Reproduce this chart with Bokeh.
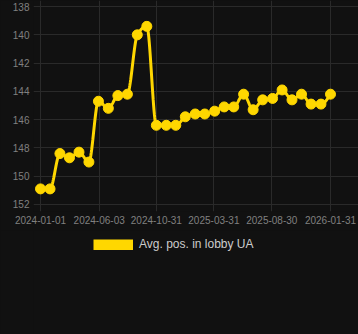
import numpy as np
import pandas as pd
from bokeh.plotting import figure
from bokeh.layouts import column
from bokeh.models import Range1d, FixedTicker, DatetimeTickFormatter, Legend, LegendItem
from bokeh.embed import file_html
from bokeh.resources import INLINE

# ---- data ----
dates = ["2024-01-01", "2024-01-26", "2024-02-21", "2024-03-17", "2024-04-11", "2024-05-07",
         "2024-06-01", "2024-06-27", "2024-07-22", "2024-08-16", "2024-09-11", "2024-10-06",
         "2024-10-31", "2024-11-26", "2024-12-21", "2025-01-15", "2025-02-10", "2025-03-07",
         "2025-04-02", "2025-04-27", "2025-05-22", "2025-06-17", "2025-07-12", "2025-08-06",
         "2025-09-01", "2025-09-26", "2025-10-22", "2025-11-16", "2025-12-11", "2026-01-06",
         "2026-01-31"]
avg_pos = [150.9, 150.9, 148.4, 148.7, 148.3, 149.0, 144.7, 145.2, 144.3, 144.2, 140.0,
           139.4, 146.4, 146.4, 146.4, 145.8, 145.6, 145.6, 145.4, 145.1, 145.1, 144.2,
           145.3, 144.6, 144.5, 143.9, 144.6, 144.2, 144.9, 144.9, 144.2]
x_tick_labels = ["2024-01-01", "2024-06-03", "2024-10-31", "2025-03-31", "2025-08-30", "2026-01-31"]
y_ticks = [138, 140, 142, 144, 146, 148, 150, 152]
series_name = "Avg. pos. in lobby UA"

GOLD = "#FFD700"
BG = "#111111"
GRID = "#2a2a2a"
TXT = "#808080"

EPOCH = pd.Timestamp("1970-01-01")
xs = np.array([(pd.Timestamp(d) - EPOCH).total_seconds() * 1000.0 for d in dates])
ys = np.array(avg_pos, dtype=float)

# monotone cubic (d3 monotoneX style) for a smooth line through the points
def monotone(x, y, n=24):
    m = len(x)
    h = np.diff(x)
    s = np.diff(y) / h
    tan = np.zeros(m)
    for i in range(1, m - 1):
        pp = (s[i - 1] * h[i] + s[i] * h[i - 1]) / (h[i - 1] + h[i])
        tan[i] = (np.sign(s[i - 1]) + np.sign(s[i])) * min(abs(s[i - 1]), abs(s[i]), 0.5 * abs(pp))
    tan[0] = (3 * s[0] - tan[1]) / 2
    tan[-1] = (3 * s[-1] - tan[-2]) / 2
    ox, oy = [], []
    for i in range(m - 1):
        u = np.linspace(0, 1, n, endpoint=(i == m - 2))
        h00 = 2 * u**3 - 3 * u**2 + 1
        h10 = u**3 - 2 * u**2 + u
        h01 = -2 * u**3 + 3 * u**2
        h11 = u**3 - u**2
        ox.extend(x[i] + u * h[i])
        oy.extend(h00 * y[i] + h10 * h[i] * tan[i] + h01 * y[i + 1] + h11 * h[i] * tan[i + 1])
    return np.array(ox), np.array(oy)

cx, cy = monotone(xs, ys)

day = 86400000.0
x0 = xs[0]
p = figure(width=358, height=230, output_backend="svg", toolbar_location=None,
           x_axis_type="datetime",
           x_range=Range1d(x0 - 18.4 * day, x0 + 834.5 * day),
           y_range=Range1d(152.5, 137.57),
           min_border_left=33, min_border_right=0, min_border_top=0, min_border_bottom=19)
p.background_fill_color = BG
p.border_fill_color = BG
p.outline_line_color = None

p.xgrid.grid_line_color = GRID
p.ygrid.grid_line_color = GRID

tick_ms = [(pd.Timestamp(s) - EPOCH).total_seconds() * 1000.0 for s in x_tick_labels]
p.xaxis.ticker = FixedTicker(ticks=tick_ms)
fmt = "%Y-%m-%d"
p.xaxis.formatter = DatetimeTickFormatter(milliseconds=fmt, seconds=fmt, minsec=fmt, minutes=fmt,
                                          hourmin=fmt, hours=fmt, days=fmt, months=fmt, years=fmt)
p.yaxis.ticker = FixedTicker(ticks=y_ticks)

for ax in (p.xaxis, p.yaxis):
    ax.axis_line_color = None
    ax.major_tick_line_color = None
    ax.minor_tick_line_color = None
    ax.major_tick_out = 0
    ax.major_tick_in = 0
    ax.major_label_text_color = TXT
    ax.major_label_text_font = "Liberation Sans"
    ax.major_label_text_font_size = "10px"
p.xaxis.major_label_standoff = 4
p.yaxis.major_label_standoff = 4

p.line(cx, cy, line_color=GOLD, line_width=3)
p.scatter(xs, ys, size=10, fill_color=GOLD, line_color=GOLD)

# ---- legend strip below the chart ----
q = figure(width=358, height=104, output_backend="svg", toolbar_location=None,
           x_axis_location=None, y_axis_location=None,
           min_border_left=0, min_border_right=0, min_border_top=0, min_border_bottom=0)
q.background_fill_color = BG
q.border_fill_color = BG
q.outline_line_color = None
q.grid.visible = False
key = q.line(cx, cy, line_color=GOLD, line_width=11, visible=False)
legend = Legend(items=[LegendItem(label=series_name, renderers=[key])],
                location=(60, 83), orientation="horizontal",
                glyph_width=40, glyph_height=11, label_standoff=6, label_height=11,
                label_text_font="Liberation Sans", label_text_font_size="12px",
                label_text_color="#cccccc", background_fill_alpha=0,
                border_line_alpha=0, padding=0, margin=0, spacing=0)
q.add_layout(legend)

layout = column(p, q, spacing=0)
layout.styles = {"background-color": BG}
open("out.html", "w").write(file_html(layout, INLINE))
